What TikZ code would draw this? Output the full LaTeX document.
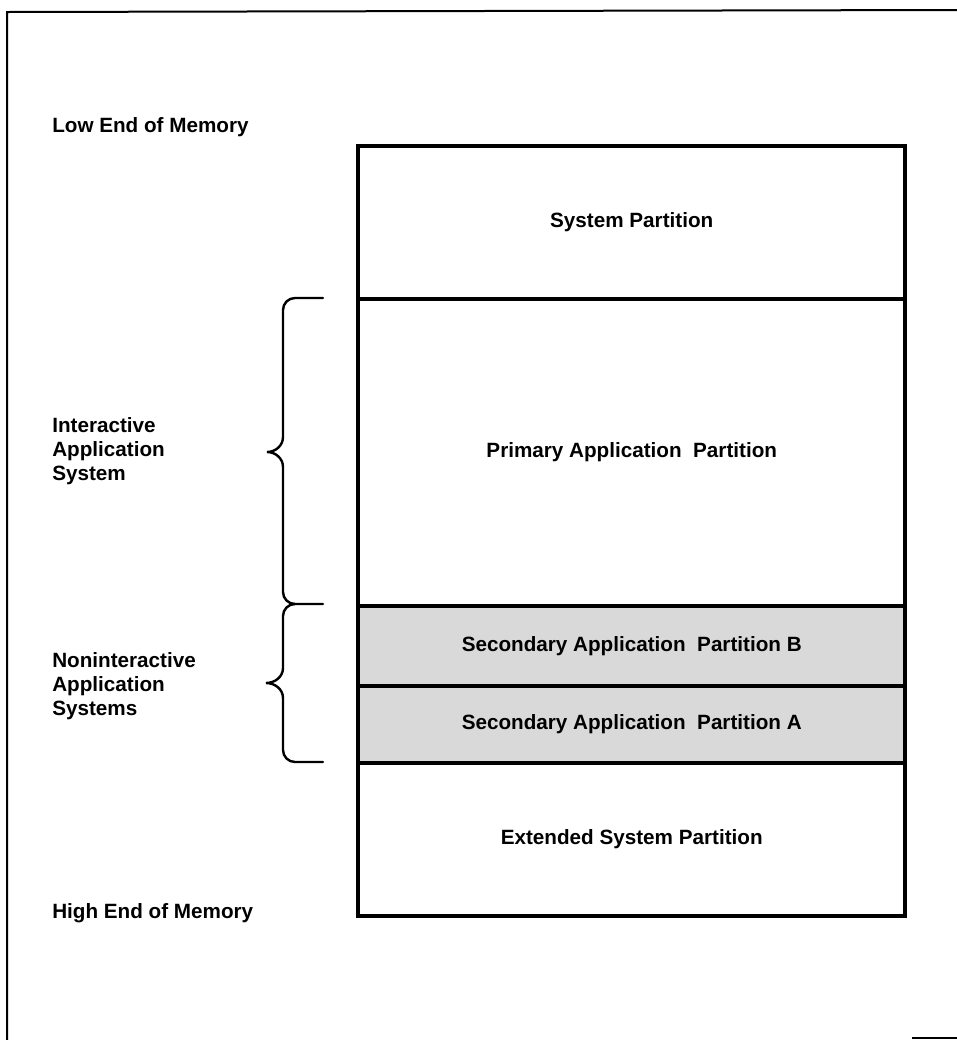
\documentclass[tikz,border=0pt]{standalone}
\usepackage{fontspec}
\setmainfont{Liberation Sans}
\usepackage{tikz}
\usetikzlibrary{positioning}

\begin{document}
\begin{tikzpicture}[x=0.75pt,y=-0.75pt]
	\tikzstyle{every node}=[font=\fontsize{15.5}{18}\selectfont\bfseries]
	\tikzstyle{part}=[draw, line width=3pt, minimum width=410pt, inner sep=0pt, outer sep=0pt]
	\tikzstyle{shaded}=[fill=gray!30]
	\tikzstyle{side}=[anchor=west, align=left, inner sep=0pt]
	\tikzstyle{brace}=[line width=1.8pt, line cap=round]
	
	\useasboundingbox (0,0) rectangle (957,1040);
	
	% frame
	\draw[line width=1.5pt] (7,1040) -- (7,12) -- (957,10);
	\draw[line width=1.5pt] (912,1038) -- (957,1038);
	
	% memory map
	\node[part, minimum height=114.75pt, anchor=north] (sys) at (631.75,146) {System Partition};
	\node[part, minimum height=230.25pt, below=0pt of sys] (pri) {Primary Application\ \ Partition};
	\node[part, shaded, minimum height=60pt, below=0pt of pri] (secb) {Secondary Application\ \ Partition B};
	\node[part, shaded, minimum height=57.75pt, below=0pt of secb] (seca) {Secondary Application\ \ Partition A};
	\node[part, minimum height=114.75pt, below=0pt of seca] (ext) {Extended System Partition};
	
	% labels on the left
	\node[side] (low) at (52,127) {Low End of Memory};
	\node[side] (inter) at (52,451) {Interactive\\Application\\System};
	\node[side] (nonint) at (52,686) {Noninteractive\\Application\\Systems};
	\node[side] (high) at (52,913) {High End of Memory};
	
	% braces
	\draw[brace] (323,298) -- (295,298) to[out=180,in=90] (283,310) -- (283,437) to[out=-90,in=0] (267,452)
		to[out=0,in=90] (283,467) -- (283,592) to[out=-90,in=180] (295,604) -- (323,604);
	\draw[brace] (295,604) to[out=180,in=90] (283,616) -- (283,668) to[out=-90,in=0] (266,683)
		to[out=0,in=90] (283,698) -- (283,750) to[out=-90,in=180] (295,762) -- (323,762);
	
\end{tikzpicture}
\end{document}
